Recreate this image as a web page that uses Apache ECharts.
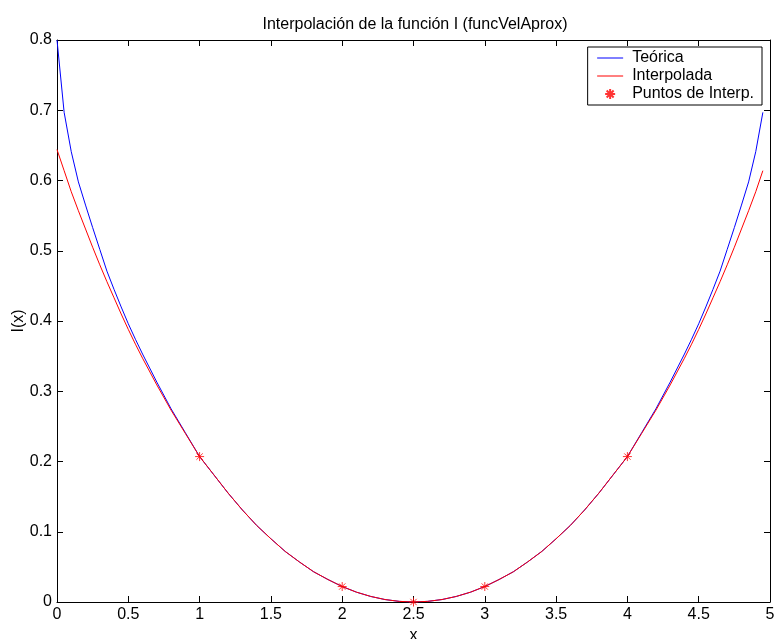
<!DOCTYPE html>
<html>
<head>
<meta charset="utf-8">
<script src="https://cdn.jsdelivr.net/npm/echarts@6/dist/echarts.min.js"></script>
<style>html,body{margin:0;padding:0;background:#fff;}#c{width:774px;height:639px;}</style>
</head>
<body>
<div id="c"></div>
<script>
// x positions of the sampled curves
const xs = [0, 0.05, 0.1, 0.15, 0.2, 0.25, 0.3, 0.35, 0.4, 0.45, 0.5, 0.55, 0.6, 0.7, 0.8, 0.9, 1.0, 1.1, 1.2, 1.3, 1.4, 1.5, 1.6, 1.7, 1.8, 1.9, 2.0, 2.1, 2.2, 2.3, 2.4, 2.5,
  2.6, 2.7, 2.8, 2.9, 3.0, 3.1, 3.2, 3.3, 3.4, 3.5, 3.6, 3.7, 3.8, 3.9, 4.0, 4.1, 4.2, 4.3, 4.4, 4.45, 4.5, 4.55, 4.6, 4.65, 4.7, 4.75, 4.8, 4.85, 4.9, 4.95];
// Teórica
const teorica = [0.800, 0.697, 0.641, 0.598, 0.565, 0.533, 0.502, 0.471, 0.445, 0.420, 0.396, 0.374, 0.353, 0.313, 0.275, 0.241, 0.207, 0.181, 0.155, 0.131, 0.109, 0.090, 0.072, 0.057, 0.043, 0.032, 0.022, 0.014, 0.0079, 0.0035, 0.0009, 0,
  0.0009, 0.0035, 0.0079, 0.014, 0.022, 0.032, 0.043, 0.057, 0.072, 0.090, 0.109, 0.131, 0.155, 0.181, 0.207, 0.241, 0.275, 0.313, 0.353, 0.374, 0.396, 0.420, 0.445, 0.471, 0.502, 0.533, 0.565, 0.598, 0.641, 0.697];
// Interpolada
const interpolada = [0.644, 0.614, 0.584, 0.557, 0.531, 0.505, 0.480, 0.456, 0.433, 0.410, 0.388, 0.367, 0.347, 0.309, 0.273, 0.240, 0.207, 0.181, 0.155, 0.131, 0.109, 0.090, 0.072, 0.057, 0.043, 0.032, 0.022, 0.014, 0.0079, 0.0035, 0.0009, 0,
  0.0009, 0.0035, 0.0079, 0.014, 0.022, 0.032, 0.043, 0.057, 0.072, 0.090, 0.109, 0.131, 0.155, 0.181, 0.207, 0.240, 0.273, 0.309, 0.347, 0.367, 0.388, 0.410, 0.433, 0.456, 0.480, 0.505, 0.531, 0.557, 0.584, 0.614];
// Puntos de Interp.
const puntosX = [1, 2, 2.5, 3, 4];
const puntosY = [0.207, 0.022, 0, 0.022, 0.207];

const xTicks = {min: 0, max: 5, interval: 0.5};
const yTicks = {min: 0, max: 0.8, interval: 0.1};

const FONT = '"Liberation Sans", Arial, Helvetica, sans-serif';
const FS = 16;
const star = 'path://M0,-5L0,5M-5,0L5,0M-3.5,-3.5L3.5,3.5M-3.5,3.5L3.5,-3.5';

const chart = echarts.init(document.getElementById('c'), null, {renderer: 'canvas'});
const axisCommon = {
  axisLine: {show: true, onZero: false, lineStyle: {color: '#000', width: 1}},
  axisTick: {show: true, inside: true, length: 6, lineStyle: {color: '#000', width: 1}},
  splitLine: {show: false}
};
chart.setOption({
  animation: false,
  backgroundColor: '#fff',
  title: {
    text: 'Interpolación de la función I (funcVelAprox)',
    left: 410, top: 12, textAlign: 'center',
    textStyle: {fontFamily: FONT, fontSize: FS, fontWeight: 'normal', color: '#000'}
  },
  grid: {left: 57, right: 4, top: 40, bottom: 37, outerBoundsMode: 'none', containLabel: false},
  legend: {
    orient: 'vertical', right: 12, top: 47,
    backgroundColor: '#fff', borderColor: '#000', borderWidth: 1,
    padding: [2, 8, 2, 9], itemGap: 0, itemWidth: 26, itemHeight: 10,
    textStyle: {fontFamily: FONT, fontSize: FS, color: '#000', lineHeight: 18, padding: [0, 0, 0, 4]},
    data: [
      {name: 'Teórica', itemStyle: {opacity: 0}, lineStyle: {width: 1}},
      {name: 'Interpolada', itemStyle: {opacity: 0}, lineStyle: {width: 1}},
      {name: 'Puntos de Interp.'}
    ]
  },
  xAxis: [
    Object.assign({type: 'value', position: 'bottom', min: xTicks.min, max: xTicks.max, interval: xTicks.interval,
      name: 'x', nameLocation: 'middle', nameGap: 26,
      nameTextStyle: {fontFamily: FONT, fontSize: FS, color: '#000'},
      axisLabel: {color: '#000', fontFamily: FONT, fontSize: FS, margin: 5}}, axisCommon),
    Object.assign({type: 'value', position: 'top', min: xTicks.min, max: xTicks.max, interval: xTicks.interval,
      axisLabel: {show: false}}, axisCommon)
  ],
  yAxis: [
    Object.assign({type: 'value', position: 'left', min: yTicks.min, max: yTicks.max, interval: yTicks.interval,
      name: 'I(x)', nameLocation: 'middle', nameGap: 30, nameMoveOverlap: false,
      nameTextStyle: {fontFamily: FONT, fontSize: FS, color: '#000'},
      axisLabel: {color: '#000', fontFamily: FONT, fontSize: FS, margin: 5}}, axisCommon),
    Object.assign({type: 'value', position: 'right', min: yTicks.min, max: yTicks.max, interval: yTicks.interval,
      axisLabel: {show: false}}, axisCommon)
  ],
  series: [
    {name: 'Teórica', type: 'line', symbol: 'none', data: xs.map((x, i) => [x, teorica[i]]),
      lineStyle: {color: '#0000ff', width: 1}, itemStyle: {color: '#0000ff'}, z: 2},
    {name: 'Interpolada', type: 'line', symbol: 'none', data: xs.map((x, i) => [x, interpolada[i]]),
      lineStyle: {color: '#ff0000', width: 1}, itemStyle: {color: '#ff0000'}, z: 3},
    {name: 'Puntos de Interp.', type: 'scatter', symbol: star, symbolSize: 9,
      data: puntosX.map((x, i) => [x, puntosY[i]]),
      itemStyle: {color: 'rgba(0,0,0,0)', borderColor: '#ff0000', borderWidth: 1}, z: 4}
  ]
});
</script>
</body>
</html>
